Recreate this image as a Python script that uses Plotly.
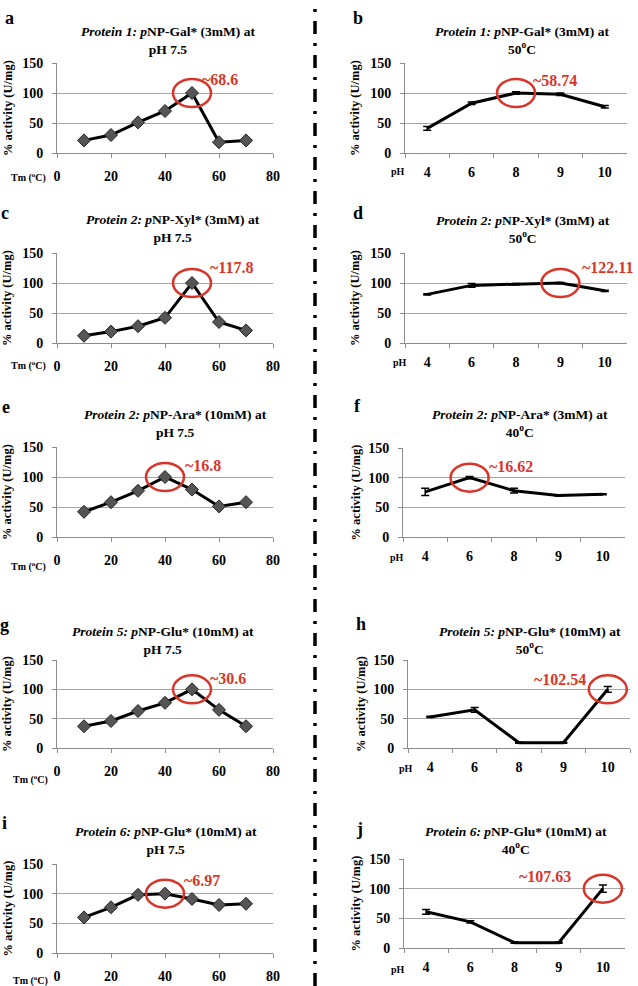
import plotly.graph_objects as go

# ---------------- data ----------------
tm = [10, 20, 30, 40, 50, 60, 70]
ph = ["4", "6", "8", "9", "10"]
tm_ticks = [0, 20, 40, 60, 80]
y_ticks = [0, 50, 100, 150]

act_a = [21, 30, 51, 70, 100, 18, 21]
act_b = [41, 83, 100, 98, 77]
err_b = [3, 2, 2, 2, 2]
act_c = [12, 19, 28, 42, 100, 35, 21]
act_d = [81, 96, 98, 100, 87]
err_d = [1, 3, 1, 1, 1]
act_e = [42, 58, 77, 100, 79, 51, 58]
act_f = [76, 100, 78, 70, 72]
err_f = [6, 2, 4, 1, 1]
act_g = [37, 46, 63, 77, 100, 65, 37]
act_h = [53, 65, 9, 9, 100]
err_h = [1, 4, 1, 1, 5]
act_i = [60, 77, 98, 100, 91, 81, 83]
act_j = [61, 44, 9, 9, 100]
err_j = [4, 2, 1, 1, 6]

letters = ["a", "b", "c", "d", "e", "f", "g", "h", "i", "j"]
title_line1 = [
    "<i>Protein 1: p</i>NP-Gal* (3mM) at",
    "<i>Protein 1: p</i>NP-Gal* (3mM) at",
    "<i>Protein 2: p</i>NP-Xyl* (3mM) at",
    "<i>Protein 2: p</i>NP-Xyl* (3mM) at",
    "<i>Protein 2: p</i>NP-Ara* (10mM) at",
    "<i>Protein 2: p</i>NP-Ara* (3mM) at",
    "<i>Protein 5: p</i>NP-Glu* (10mM) at",
    "<i>Protein 5: p</i>NP-Glu* (10mM) at",
    "<i>Protein 6: p</i>NP-Glu* (10mM) at",
    "<i>Protein 6: p</i>NP-Glu* (10mM) at",
]
title_line2 = ["pH 7.5", "50<sup>o</sup>C", "pH 7.5", "50<sup>o</sup>C", "pH 7.5",
               "40<sup>o</sup>C", "pH 7.5", "50<sup>o</sup>C", "pH 7.5", "40<sup>o</sup>C"]
peak_labels = ["~68.6", "~58.74", "~117.8", "~122.11", "~16.8",
               "~16.62", "~30.6", "~102.54", "~6.97", "~107.63"]
y_title = "% activity (U/mg)"
tm_title = "Tm (<sup>o</sup>C)"
ph_title = "pH"

values = [act_a, act_b, act_c, act_d, act_e, act_f, act_g, act_h, act_i, act_j]
errors = [None, err_b, None, err_d, None, err_f, None, err_h, None, err_j]

# ---------------- layout config (pixels) ----------------
W, H = 638, 986
# plot boxes: left, right, top(150), bottom(0)
boxes = [(57, 273, 63, 153), (405, 627, 63, 153),
         (57, 273, 253, 343), (405, 627, 253, 343),
         (57, 273, 447, 537), (403, 625, 448, 537),
         (57, 273, 660, 748), (408, 630, 660, 748),
         (57, 273, 864, 953), (404, 625, 859, 948)]
title_pos = [(168, 40), (522, 40), (173, 229), (523, 230),
             (175, 423), (520, 423), (163, 640), (530, 640),
             (166, 840), (516, 840)]
letter_pos = [(9, 18), (358, 18), (5, 213), (358, 213), (6, 407), (357, 406),
              (5, 625), (361, 624), (5, 823), (360, 829)]
ytitle_x = [8, 355, 7, 355, 7, 355, 7, 361, 7, 355]
xlab_pos = [(28, 177), (398, 172), (28, 365), (400, 363), (28, 566),
            (397, 557), (30, 779), (406, 768), (30, 980), (398, 969)]
lab_shift = [(8, 13, "left"), (15, 12, "left"), (16, 16, "left"), (20, 16, "left"),
             (18, 11, "left"), (17, 11, "left"), (16, 11, "left"), (-20, 10, "right"),
             (17, 13, "left"), (-30, 12, "right")]

SERIF = "Liberation Serif, Times New Roman, serif"
RED = "#d8362a"
GRID = "#a6a6a6"
AXIS = "#8c8c8c"


def px(x):
    return x / W


def py(y):
    return 1 - y / H


fig = go.Figure()
annotations = []
shapes = []

for k in range(10):
    n = k + 1
    xa = "x" if n == 1 else f"x{n}"
    ya = "y" if n == 1 else f"y{n}"
    l, r, t, b = boxes[k]
    vals = values[k]
    is_tm = (k % 2 == 0)
    xs = tm if is_tm else ph
    if is_tm:
        fig.add_trace(go.Scatter(
            x=xs, y=vals, xaxis=xa, yaxis=ya, mode="lines+markers",
            line=dict(color="black", width=3),
            marker=dict(symbol="diamond", size=10, color="#555555",
                        line=dict(color="#222222", width=1)),
            cliponaxis=False, showlegend=False))
    else:
        fig.add_trace(go.Scatter(
            x=xs, y=vals, xaxis=xa, yaxis=ya, mode="lines",
            line=dict(color="black", width=3),
            error_y=dict(type="data", array=errors[k], visible=True,
                         color="black", thickness=1.5, width=4),
            cliponaxis=False, showlegend=False))

    xkey = "xaxis" if n == 1 else f"xaxis{n}"
    ykey = "yaxis" if n == 1 else f"yaxis{n}"
    common_x = dict(domain=[px(l), px(r)], anchor=ya, showline=True, linecolor=AXIS,
                    linewidth=1, ticks="outside", ticklen=4, tickcolor=AXIS,
                    showgrid=False, zeroline=False, ticklabelstandoff=6,
                    automargin=False,
                    tickfont=dict(family=SERIF, size=14, color="black", weight="bold"))
    if is_tm:
        xaxis = dict(common_x, type="linear", range=[0, 80], tickvals=tm_ticks)
    else:
        xaxis = dict(common_x, type="category", range=[-0.5, 4.5], tickson="boundaries")
    yaxis = dict(domain=[py(b), py(t)], anchor=xa, range=[0, 150], tickvals=y_ticks,
                 showline=True, linecolor=AXIS, linewidth=1, ticks="outside",
                 ticklen=4, tickcolor=AXIS, showgrid=True, gridcolor=GRID,
                 gridwidth=1, zeroline=False, ticklabelstandoff=6, automargin=False,
                 tickfont=dict(family=SERIF, size=14, color="black", weight="bold"))
    fig.update_layout({xkey: xaxis, ykey: yaxis})

    # title (two lines)
    cx, ty = title_pos[k]
    annotations.append(dict(text=f"<b>{title_line1[k]}<br>{title_line2[k]}</b>",
                            x=px(cx), y=py(ty), xref="paper", yref="paper",
                            showarrow=False, xanchor="center", yanchor="middle",
                            align="center",
                            font=dict(family=SERIF, size=13.5, color="black")))
    # letter
    lx, ly = letter_pos[k]
    annotations.append(dict(text=f"<b>{letters[k]}</b>", x=px(lx), y=py(ly),
                            xref="paper", yref="paper", showarrow=False,
                            xanchor="center", yanchor="middle",
                            font=dict(family=SERIF, size=18, color="black")))
    # y title
    annotations.append(dict(text=f"<b>{y_title}</b>", x=px(ytitle_x[k]),
                            y=py((t + b) / 2), xref="paper", yref="paper",
                            showarrow=False, textangle=-90, xanchor="center",
                            yanchor="middle",
                            font=dict(family=SERIF, size=12.5, color="black")))
    # x label
    xlx, xly = xlab_pos[k]
    annotations.append(dict(text=f"<b>{tm_title if is_tm else ph_title}</b>",
                            x=px(xlx), y=py(xly), xref="paper", yref="paper",
                            showarrow=False, xanchor="center", yanchor="middle",
                            font=dict(family=SERIF, size=10, color="black")))
    # peak marker ellipse and label
    ip = max(range(len(vals)), key=lambda i: vals[i])
    peak_x = xs[ip] if is_tm else ip
    peak_y = vals[ip]
    shapes.append(dict(type="circle", xref=xa, yref=ya, xsizemode="pixel",
                       ysizemode="pixel", xanchor=peak_x, yanchor=peak_y,
                       x0=-19, x1=19, y0=-14, y1=14,
                       line=dict(color=RED, width=2.5)))
    dx, dy, side = lab_shift[k]
    annotations.append(dict(text=f"<b>{peak_labels[k]}</b>", x=peak_x, y=peak_y,
                            xref=xa, yref=ya, showarrow=False, xanchor=side,
                            yanchor="middle", xshift=dx, yshift=dy,
                            font=dict(family=SERIF, size=16, color=RED)))

# dash-dot divider
shapes.append(dict(type="line", xref="paper", yref="paper", x0=px(315), x1=px(315),
                   y0=0, y1=1, line=dict(color="black", width=3.5,
                                         dash="13px,9px,3px,9px")))

fig.update_layout(width=W, height=H,
                  margin=dict(l=0, r=0, t=0, b=0, pad=0, autoexpand=False),
                  paper_bgcolor="white", plot_bgcolor="white", showlegend=False,
                  hovermode=False,
                  annotations=annotations, shapes=shapes)

fig.write_html("out.html",
               config={"displayModeBar": False, "staticPlot": True},
               post_script="document.body.style.margin='0';"
                           "document.body.style.overflow='hidden';")
